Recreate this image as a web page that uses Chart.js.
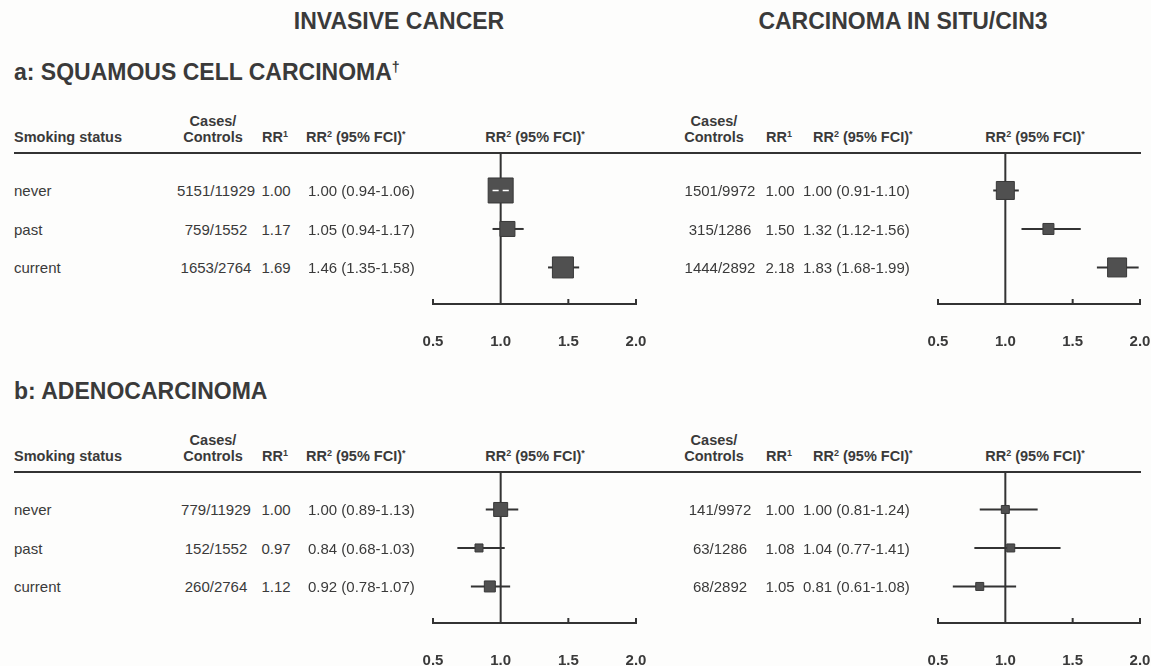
<!DOCTYPE html>
<html>
<head>
<meta charset="utf-8">
<title>Smoking status and cervical cancer</title>
<script src="https://cdn.jsdelivr.net/npm/chart.js@4.4.1/dist/chart.umd.min.js"></script>
<style>
  body { margin: 0; background: #fdfdfc; }
  #page { position: relative; width: 1151px; height: 666px; overflow: hidden;
          font-family: "Liberation Sans", Arial, Helvetica, sans-serif; color: #3a3a3a; }
  .t { position: absolute; white-space: nowrap; line-height: 1; }
  .title { font-weight: bold; font-size: 23px; }
  .hdr { font-weight: bold; font-size: 14.5px; }
  .row { font-size: 15px; }
  .rule { position: absolute; height: 2px; background: #333; }
  canvas { position: absolute; }
  sup { font-size: 62%; line-height: 0; vertical-align: 0.55em; }
</style>
</head>
<body>
<div id="page"></div>
<script>
// smoking status rows
const smokingStatus = ['never', 'past', 'current'];
const xTicks = [0.5, 1.0, 1.5, 2.0];

// a: squamous cell carcinoma, invasive
const scInvCases = ['5151/11929', '759/1552', '1653/2764'];
const scInvRR1 = [1.00, 1.17, 1.69];
const scInvRR2 = [1.00, 1.05, 1.46];
const scInvLo = [0.94, 0.94, 1.35];
const scInvHi = [1.06, 1.17, 1.58];

// a: squamous cell carcinoma, in situ / CIN3
const scCisCases = ['1501/9972', '315/1286', '1444/2892'];
const scCisRR1 = [1.00, 1.50, 2.18];
const scCisRR2 = [1.00, 1.32, 1.83];
const scCisLo = [0.91, 1.12, 1.68];
const scCisHi = [1.10, 1.56, 1.99];

// b: adenocarcinoma, invasive
const adInvCases = ['779/11929', '152/1552', '260/2764'];
const adInvRR1 = [1.00, 0.97, 1.12];
const adInvRR2 = [1.00, 0.84, 0.92];
const adInvLo = [0.89, 0.68, 0.78];
const adInvHi = [1.13, 1.03, 1.07];

// b: adenocarcinoma, in situ
const adCisCases = ['141/9972', '63/1286', '68/2892'];
const adCisRR1 = [1.00, 1.08, 1.05];
const adCisRR2 = [1.00, 1.04, 0.81];
const adCisLo = [0.81, 0.77, 0.61];
const adCisHi = [1.24, 1.41, 1.08];

const FONT = '"Liberation Sans", Arial, Helvetica, sans-serif';
const INK = '#333';
const page = document.getElementById('page');

function addText(x, y, html, cls, align) {
  const d = document.createElement('div');
  d.className = 't ' + cls;
  d.innerHTML = html;
  d.style.left = x + 'px';
  d.style.top = y + 'px';
  const tx = align === 'center' ? '-50%' : align === 'right' ? '-100%' : '0';
  d.style.transform = `translate(${tx}, -50%)`;
  page.appendChild(d);
  return d;
}

function addRule(x0, x1, y) {
  const d = document.createElement('div');
  d.className = 'rule';
  d.style.left = x0 + 'px';
  d.style.width = (x1 - x0) + 'px';
  d.style.top = (y - 1) + 'px';
  page.appendChild(d);
}

// CI whiskers, reference line at RR=1 and upward tick marks
const forestLines = {
  id: 'forestLines',
  beforeDatasetsDraw(chart, args, opts) {
    const { ctx, chartArea, scales: { x, y } } = chart;
    ctx.save();
    ctx.strokeStyle = INK;
    ctx.lineWidth = 2;
    const xr = x.getPixelForValue(opts.refValue);
    ctx.beginPath();
    ctx.moveTo(xr, chartArea.top);
    ctx.lineTo(xr, chartArea.bottom);
    x.ticks.forEach(t => {
      const tx = x.getPixelForValue(t.value);
      ctx.moveTo(tx, chartArea.bottom);
      ctx.lineTo(tx, chartArea.bottom - 5);
    });
    ctx.stroke();
    opts.lo.forEach((lo, i) => {
      const yy = y.getPixelForValue(i + 1);
      ctx.beginPath();
      ctx.moveTo(x.getPixelForValue(lo), yy);
      ctx.lineTo(x.getPixelForValue(opts.hi[i]), yy);
      ctx.stroke();
    });
    ctx.restore();
  },
  afterDatasetsDraw(chart, args, opts) {
    // interval narrower than its box: show it in white on top of the box
    const { ctx, scales: { x, y } } = chart;
    const pts = chart.getDatasetMeta(0).data;
    ctx.save();
    ctx.strokeStyle = '#fff';
    ctx.lineWidth = 1.5;
    opts.lo.forEach((lo, i) => {
      const half = pts[i].options.radius * Math.SQRT1_2;
      const x0 = x.getPixelForValue(lo), x1 = x.getPixelForValue(opts.hi[i]);
      if (x0 > pts[i].x - half && x1 < pts[i].x + half) {
        const yy = y.getPixelForValue(i + 1);
        const xr = x.getPixelForValue(opts.refValue);
        ctx.beginPath();
        ctx.moveTo(x0, yy); ctx.lineTo(xr - 2, yy);
        ctx.moveTo(xr + 2, yy); ctx.lineTo(x1, yy);
        ctx.stroke();
      }
    });
    ctx.restore();
  }
};

function forestChart(left, right, top, rr2, lo, hi, boxSide) {
  const pad = 20;
  const cv = document.createElement('canvas');
  cv.width = right - left + 2 * pad;
  cv.height = 228;
  cv.style.left = (left - pad) + 'px';
  cv.style.top = top + 'px';
  page.appendChild(cv);

  return new Chart(cv, {
    type: 'scatter',
    data: {
      datasets: [{
        data: rr2.map((v, i) => ({ x: v, y: i + 1 })),
        pointStyle: 'rect',
        pointRadius: boxSide.map(s => s / Math.SQRT2),
        pointHoverRadius: boxSide.map(s => s / Math.SQRT2),
        backgroundColor: '#505050',
        borderColor: '#383838',
        borderWidth: 1,
        clip: false
      }]
    },
    options: {
      responsive: false,
      maintainAspectRatio: false,
      animation: false,
      events: [],
      layout: { autoPadding: false, padding: { left: pad, right: pad, top: 0, bottom: 0 } },
      plugins: {
        legend: { display: false },
        tooltip: { enabled: false },
        forestLines: { refValue: 1.0, lo: lo, hi: hi }
      },
      scales: {
        x: {
          type: 'linear',
          min: xTicks[0],
          max: xTicks[xTicks.length - 1],
          afterBuildTicks: axis => { axis.ticks = xTicks.map(v => ({ value: v })); },
          // end labels may hang into the side padding
          afterFit: axis => { axis.paddingLeft = 0; axis.paddingRight = 0; },
          grid: { display: false, drawTicks: false },
          border: { display: true, color: INK, width: 2 },
          ticks: {
            padding: 29,
            color: '#3a3a3a',
            font: { family: FONT, size: 15, weight: 'bold' },
            callback: v => Number(v).toFixed(1)
          }
        },
        y: { display: false, min: 0, max: 3.95, reverse: true }
      }
    },
    plugins: [forestLines]
  });
}

function section(dy, label, inv, cis) {
  addText(14, 72 + dy, label, 'title', 'left');

  // column headers
  addText(14, 137 + dy, 'Smoking status', 'hdr', 'left');
  [[213, 275, 306, 535], [714, 779, 813, 1035]].forEach(c => {
    addText(c[0], 121 + dy, 'Cases/', 'hdr', 'center');
    addText(c[0], 137 + dy, 'Controls', 'hdr', 'center');
    addText(c[1], 137 + dy, 'RR<sup>1</sup>', 'hdr', 'center');
    addText(c[2], 137 + dy, 'RR<sup>2</sup> (95% FCI)<sup>*</sup>', 'hdr', 'left');
    addText(c[3], 137 + dy, 'RR<sup>2</sup> (95% FCI)<sup>*</sup>', 'hdr', 'center');
  });
  addRule(14, 1141, 153 + dy);

  const top = 152 + dy;
  const chInv = forestChart(433, 636, top, inv.rr2, inv.lo, inv.hi, inv.box);
  forestChart(938, 1140, top, cis.rr2, cis.lo, cis.hi, cis.box);

  smokingStatus.forEach((s, i) => {
    const y = top + chInv.scales.y.getPixelForValue(i + 1);
    addText(14, y, s, 'row', 'left');
    [[inv, 216, 276, 308], [cis, 720, 780, 803]].forEach(([d, xc, xr1, xr2]) => {
      addText(xc, y, d.cases[i], 'row', 'center');
      addText(xr1, y, d.rr1[i].toFixed(2), 'row', 'center');
      addText(xr2, y, `${d.rr2[i].toFixed(2)} (${d.lo[i].toFixed(2)}-${d.hi[i].toFixed(2)})`, 'row', 'left');
    });
  });
}

addText(399, 21, 'INVASIVE CANCER', 'title', 'center');
addText(903, 21, 'CARCINOMA IN SITU/CIN3', 'title', 'center');

section(0, 'a: SQUAMOUS CELL CARCINOMA<sup>†</sup>',
  { cases: scInvCases, rr1: scInvRR1, rr2: scInvRR2, lo: scInvLo, hi: scInvHi, box: [25, 15, 21] },
  { cases: scCisCases, rr1: scCisRR1, rr2: scCisRR2, lo: scCisLo, hi: scCisHi, box: [18, 11, 19] });

section(319, 'b: ADENOCARCINOMA',
  { cases: adInvCases, rr1: adInvRR1, rr2: adInvRR2, lo: adInvLo, hi: adInvHi, box: [14, 8, 11] },
  { cases: adCisCases, rr1: adCisRR1, rr2: adCisRR2, lo: adCisLo, hi: adCisHi, box: [8, 8, 8] });
</script>
</body>
</html>
